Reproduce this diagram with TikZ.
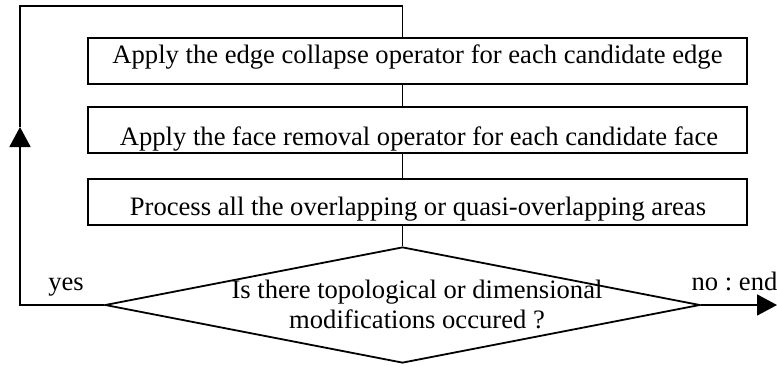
\documentclass[tikz,border=0pt]{standalone}
\usepackage{fontspec}
\setmainfont{Liberation Serif}
\usetikzlibrary{arrows.meta,shapes.geometric}
\frenchspacing
\begin{document}
\begin{tikzpicture}[x=1pt,y=-1pt,
  line width=1.8pt,
  box/.style={draw,rectangle,minimum width=659pt,minimum height=46pt,inner sep=0pt},
  dia/.style={draw,diamond,minimum width=595pt,minimum height=116pt,inner sep=0pt},
  txt/.style={inner sep=0pt,font=\fontsize{26.6pt}{30pt}\selectfont},
  arr/.style={-{Triangle[length=20pt,width=21pt]}}]
\useasboundingbox (0,0) rectangle (777,367);
\node[box] (b1) at (417.5,61) {};
\node[box] (b2) at (417.5,130) {};
\node[box] (b3) at (417.5,202) {};
\node[dia] (d) at (402.5,305) {};
\node[txt,anchor=base] (t1) at (417.5,63) {Apply the edge collapse operator for each candidate edge};
\node[txt,anchor=base] (t2) at (419,145) {Apply the face removal operator for each candidate face};
\node[txt,anchor=base] (t3) at (418,215) {Process all the overlapping or quasi-overlapping areas};
\node[txt,anchor=base] (t4) at (417,298) {Is there topological or dimensional};
\node[txt,anchor=base] (t5) at (417,328) {modifications occured ?};
\node[txt,anchor=base] (yes) at (66,290) {yes};
\node[txt,anchor=base] (no) at (734.5,290) {no : end};
\coordinate (cL) at (20,305);
\coordinate (cA) at (20,127);
\coordinate (cT) at (20,6);
\coordinate (cR) at (402.5,6);
\coordinate (cE) at (777,305);
\draw (d.north |- b1.south) -- (d.north |- b2.north);
\draw (d.north |- b2.south) -- (d.north |- b3.north);
\draw (d.north |- b3.south) -- (d.north);
\draw[arr] (d.west) -- (cL) -- (cA);
\draw (cA) -- (cT) -- (cR) -- (d.north |- b1.north);
\draw[arr] (d.east) -- (cE);
\end{tikzpicture}
\end{document}
